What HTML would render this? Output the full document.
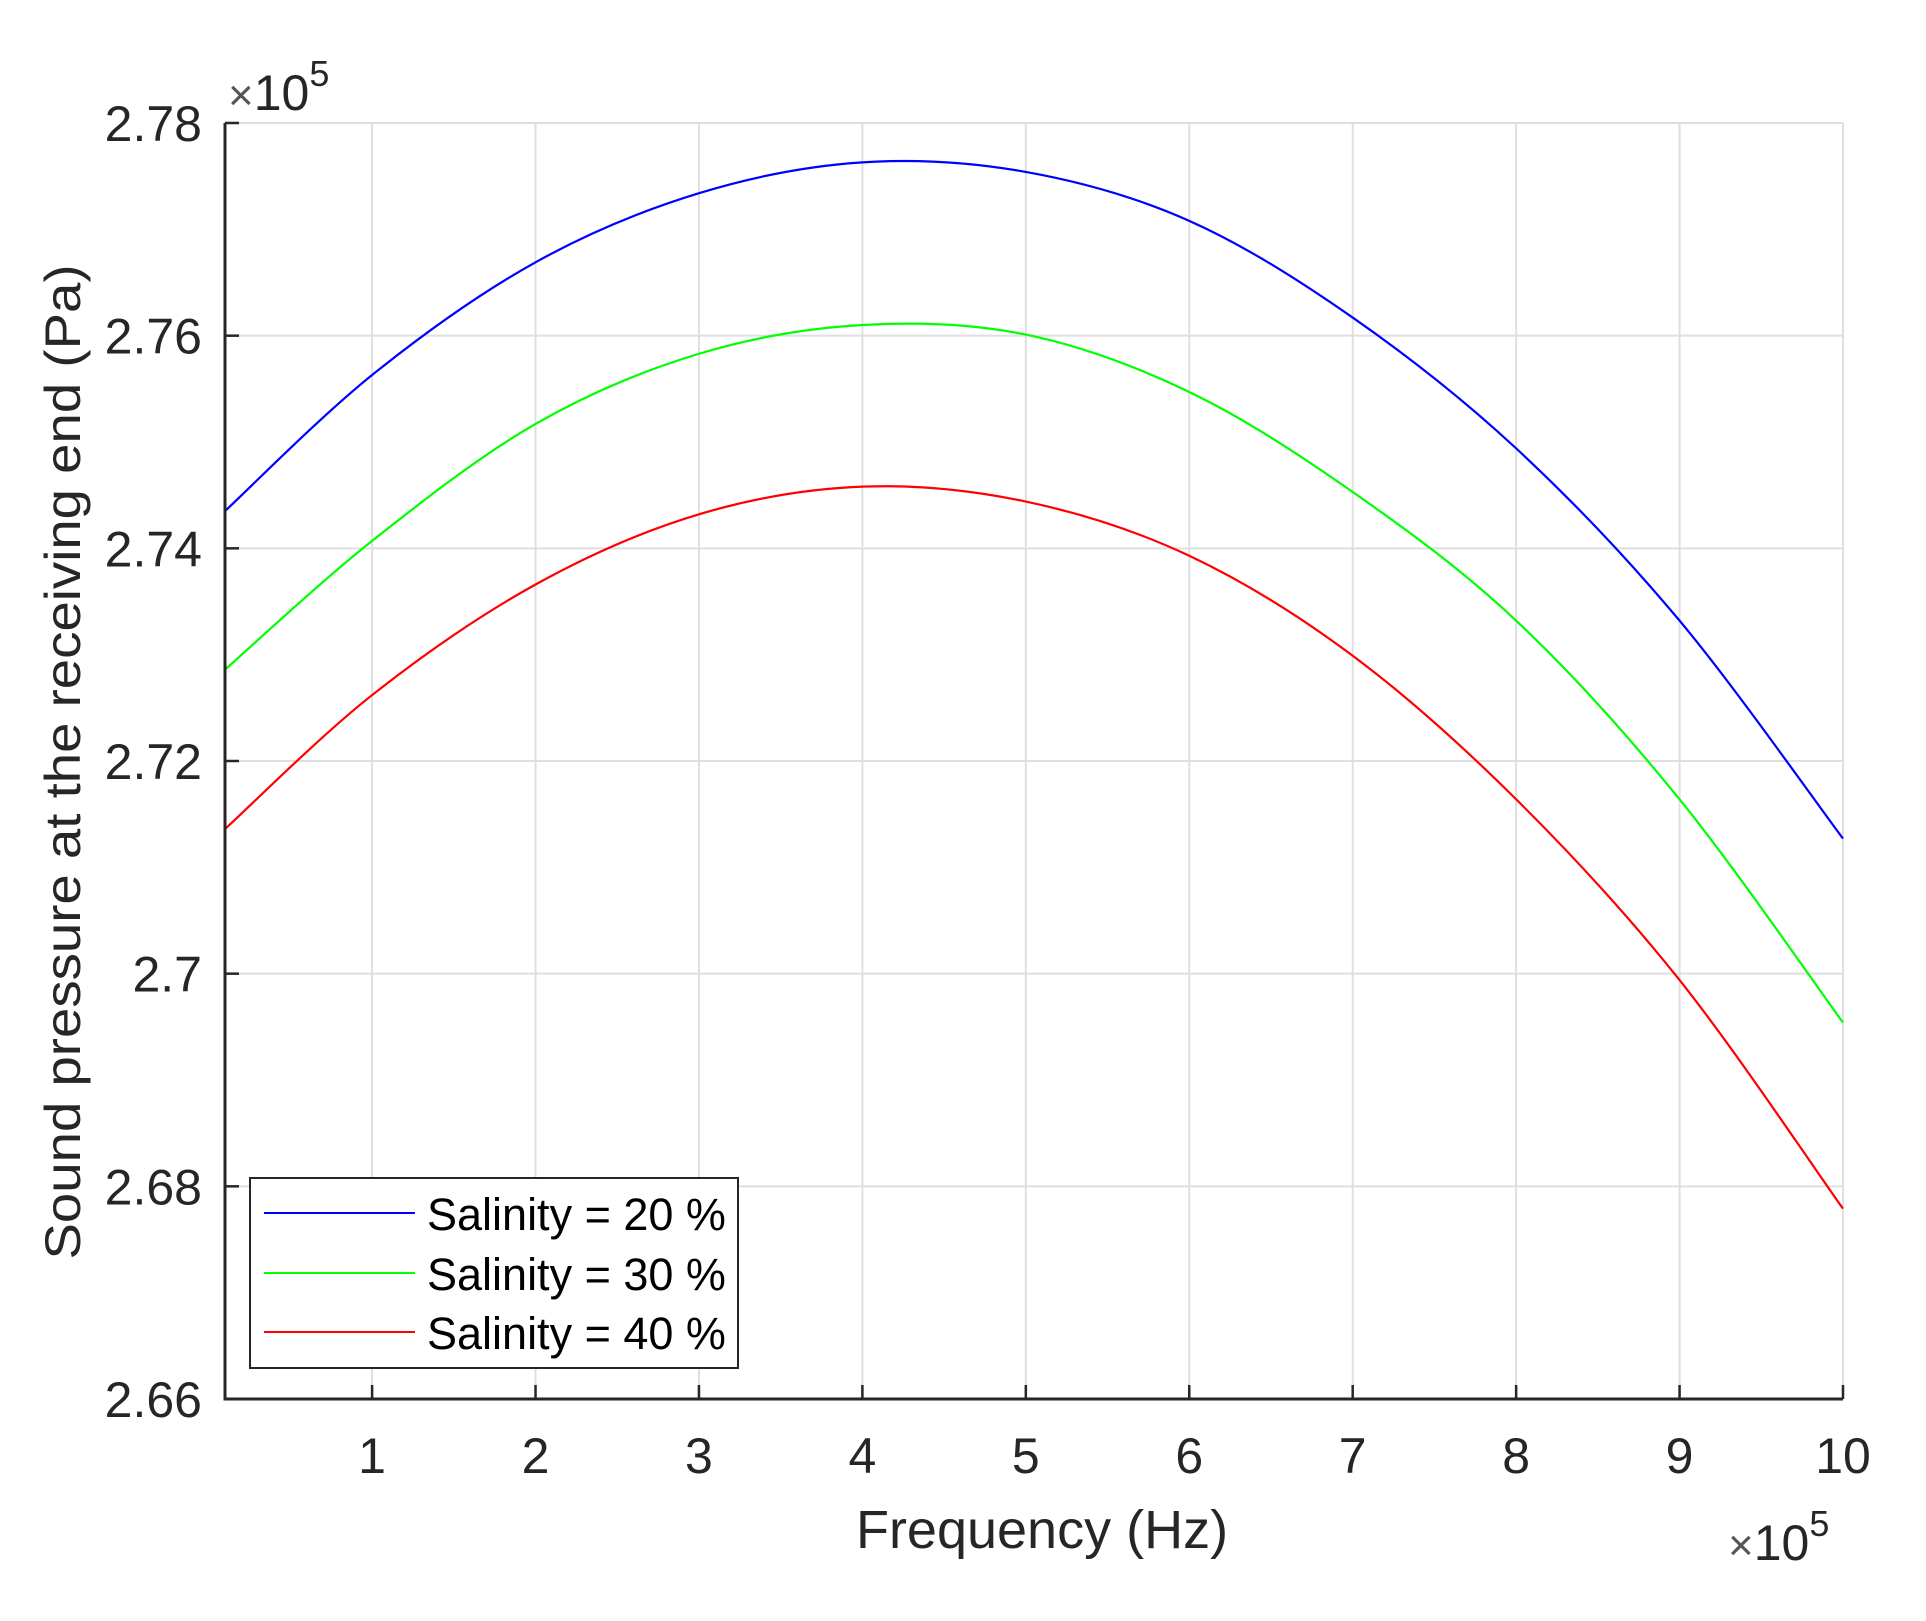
<!DOCTYPE html>
<html><head><meta charset="utf-8"><style>
html,body{margin:0;padding:0;background:#fff;}
svg{display:block;font-family:"Liberation Sans",Arial,sans-serif;}
</style></head><body>
<svg id="chart" width="1926" height="1621" viewBox="0 0 1926 1621" xmlns="http://www.w3.org/2000/svg">
<rect width="1926" height="1621" fill="#fff"/>
<g id="grid"></g>
<g id="series"></g>
<g id="axes"></g>
<text x="228" y="110" font-size="50" fill="#262626"><tspan font-size="44" fill="#555">×</tspan>10<tspan dy="-24" font-size="36">5</tspan></text>
<text x="1728" y="1560" font-size="50" fill="#262626"><tspan font-size="44" fill="#555">×</tspan>10<tspan dy="-24" font-size="36">5</tspan></text>
<text x="1042" y="1548" font-size="54" text-anchor="middle" fill="#262626">Frequency (Hz)</text>
<text transform="translate(80,762) rotate(-90)" font-size="50" text-anchor="middle" fill="#262626" textLength="995" lengthAdjust="spacingAndGlyphs">Sound pressure at the receiving end (Pa)</text>
<g>
<rect x="250" y="1178" width="488" height="190" fill="#fff" stroke="#262626" stroke-width="2"/>
<line x1="264" y1="1213" x2="415" y2="1213" stroke="#0000ff" stroke-width="2"/>
<text x="427" y="1230" font-size="45" fill="#000">Salinity = 20 %</text>
<line x1="264" y1="1273" x2="415" y2="1273" stroke="#00ff00" stroke-width="2"/>
<text x="427" y="1290" font-size="45" fill="#000">Salinity = 30 %</text>
<line x1="264" y1="1332" x2="415" y2="1332" stroke="#ff0000" stroke-width="2"/>
<text x="427" y="1349" font-size="45" fill="#000">Salinity = 40 %</text>
</g>
</svg>
<script>
const freq = [0.1, 1, 2, 3, 4, 5, 6, 7, 8, 9, 10];
const sal20 = [2.7435, 2.7563, 2.7669, 2.7734, 2.7763, 2.7754, 2.7708, 2.7617, 2.7494, 2.7332, 2.7127];
const sal30 = [2.7286, 2.7407, 2.7517, 2.7583, 2.7610, 2.7601, 2.7547, 2.7453, 2.7332, 2.7164, 2.6954];
const sal40 = [2.7136, 2.7262, 2.7366, 2.7432, 2.7458, 2.7444, 2.7393, 2.7299, 2.7164, 2.6994, 2.6779];
const xTicks = [1,2,3,4,5,6,7,8,9,10];
const yTicks = [2.66,2.68,2.70,2.72,2.74,2.76,2.78];
const yTickLabels = ["2.66","2.68","2.7","2.72","2.74","2.76","2.78"];

const L=225,R=1843,T=123,B=1399;
const xMin=0.1,xMax=10,yMin=2.66,yMax=2.78;
function sx(v){return L+(v-xMin)/(xMax-xMin)*(R-L);}
function sy(v){return B-(v-yMin)/(yMax-yMin)*(B-T);}
const NS="http://www.w3.org/2000/svg";
function mk(tag,attrs,parent){const e=document.createElementNS(NS,tag);for(const k in attrs)e.setAttribute(k,attrs[k]);parent.appendChild(e);return e;}
const grid=document.getElementById('grid'),axes=document.getElementById('axes'),series=document.getElementById('series');
xTicks.forEach(t=>{
  const g=mk('line',{x1:sx(t),x2:sx(t),y1:T,y2:B,stroke:'#dfdfdf','stroke-width':2},grid);
  
  
  const tk=mk('line',{x1:sx(t),x2:sx(t),y1:B,y2:B-14,stroke:'#262626','stroke-width':2.5},axes);
  
  
  const lb=mk('text',{x:sx(t),y:1473,'font-size':50,'text-anchor':'middle',fill:'#262626'},axes);
  lb.textContent=String(t);
  
  
});
yTicks.forEach((t,i)=>{
  const g=mk('line',{x1:L,x2:R,y1:sy(t),y2:sy(t),stroke:'#dfdfdf','stroke-width':2},grid);
  
  
  const tk=mk('line',{x1:L,x2:L+14,y1:sy(t),y2:sy(t),stroke:'#262626','stroke-width':2.5},axes);
  
  
  const lb=mk('text',{x:202,y:sy(t)+18,'font-size':50,'text-anchor':'end',fill:'#262626'},axes);
  lb.textContent=yTickLabels[i];
  
  
});
const ax=mk('path',{d:`M${L},${T} L${L},${B} L${R},${B}`,fill:'none',stroke:'#262626','stroke-width':3},axes);


function smoothPath(xs,ys){
  const p=xs.map((x,i)=>[sx(x),sy(ys[i])]);
  let d=`M${p[0][0]},${p[0][1]}`;
  for(let i=0;i<p.length-1;i++){
    const p0=p[Math.max(0,i-1)],p1=p[i],p2=p[i+1],p3=p[Math.min(p.length-1,i+2)];
    const c1=[p1[0]+(p2[0]-p0[0])/6,p1[1]+(p2[1]-p0[1])/6];
    const c2=[p2[0]-(p3[0]-p1[0])/6,p2[1]-(p3[1]-p1[1])/6];
    d+=` C${c1[0]},${c1[1]} ${c2[0]},${c2[1]} ${p2[0]},${p2[1]}`;
  }
  return d;
}
[[sal20,'#0000ff','salinity-20-line'],[sal30,'#00ff00','salinity-30-line'],[sal40,'#ff0000','salinity-40-line']].forEach(([ys,c,n])=>{
  const pth=mk('path',{d:smoothPath(freq,ys),fill:'none',stroke:c,'stroke-width':2.2},series);
  
  
});
</script>
</body></html>
